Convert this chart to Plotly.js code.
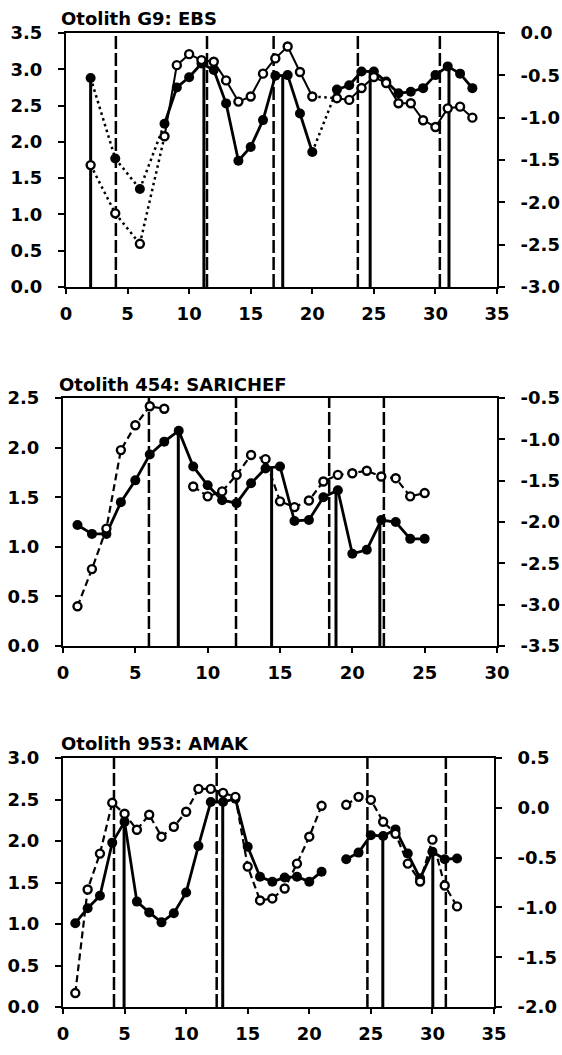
<!DOCTYPE html>
<html>
<head>
<meta charset="utf-8">
<script src="https://cdn.plot.ly/plotly-3.0.1.min.js"></script>
<style>html,body{margin:0;padding:0;background:#fff;}#chart{width:562px;height:1055px;}</style>
</head>
<body>
<div id="chart"></div>
<script>
// ---------- Panel 1: Otolith G9: EBS ----------
const P1_TITLE = "Otolith G9: EBS";
const P1_X      = [2,4,6,8,9,10,11,12,13,14,15,16,17,18,19,20,22,23,24,25,26,27,28,29,30,31,32,33];
const P1_FILLED = [2.88,1.77,1.35,2.25,2.75,2.89,3.08,2.99,2.53,1.74,1.93,2.30,2.91,2.92,2.39,1.86,2.72,2.78,2.97,2.97,2.83,2.67,2.69,2.74,2.92,3.04,2.94,2.74];
const P1_OPEN   = [-1.56,-2.13,-2.49,-1.22,-0.38,-0.25,-0.32,-0.34,-0.56,-0.81,-0.75,-0.48,-0.30,-0.16,-0.46,-0.75,-0.77,-0.79,-0.65,-0.52,-0.59,-0.83,-0.83,-1.03,-1.11,-0.89,-0.87,-1.00];
const P1_SOLID_X   = [2.0,11.2,17.6,24.7,31.1];
const P1_SOLID_TOP = [2.88,3.10,2.92,2.97,3.04];
const P1_DASH_X    = [4.05,11.45,16.86,23.7,30.36];
const P1_XTICKS = [0,5,10,15,20,25,30,35];
const P1_LTICKS = [0,0.5,1,1.5,2,2.5,3,3.5];
const P1_LTEXT  = ["0.0","0.5","1.0","1.5","2.0","2.5","3.0","3.5"];
const P1_RTICKS = [-3,-2.5,-2,-1.5,-1,-0.5,0];
const P1_RTEXT  = ["-3.0","-2.5","-2.0","-1.5","-1.0","-0.5","0.0"];

// ---------- Panel 2: Otolith 454: SARICHEF ----------
const P2_TITLE = "Otolith 454: SARICHEF";
const P2_X      = [1,2,3,4,5,6,7,8,9,10,11,12,13,14,15,16,17,18,19,20,21,22,23,24,25];
const P2_FILLED = [1.22,1.13,1.13,1.45,1.67,1.93,2.06,2.17,1.81,1.62,1.47,1.44,1.64,1.79,1.81,1.26,1.27,1.50,1.57,0.93,0.97,1.27,1.25,1.08,1.08];
const P2_OPEN   = [-3.02,-2.57,-2.08,-1.13,-0.83,-0.60,-0.63,null,-1.57,-1.69,-1.63,-1.43,-1.19,-1.24,-1.75,-1.82,-1.74,-1.51,-1.43,-1.41,-1.38,-1.45,-1.47,-1.69,-1.65];
const P2_SOLID_X   = [7.97,14.42,18.87,21.9];
const P2_SOLID_TOP = [2.16,1.81,1.56,1.29];
const P2_DASH_X    = [5.94,11.96,18.4,22.18];
const P2_XTICKS = [0,5,10,15,20,25,30];
const P2_LTICKS = [0,0.5,1,1.5,2,2.5];
const P2_LTEXT  = ["0.0","0.5","1.0","1.5","2.0","2.5"];
const P2_RTICKS = [-3.5,-3,-2.5,-2,-1.5,-1,-0.5];
const P2_RTEXT  = ["-3.5","-3.0","-2.5","-2.0","-1.5","-1.0","-0.5"];

// ---------- Panel 3: Otolith 953: AMAK ----------
const P3_TITLE = "Otolith 953: AMAK";
const P3_X      = [1,2,3,4,5,6,7,8,9,10,11,12,13,14,15,16,17,18,19,20,21,22,23,24,25,26,27,28,29,30,31,32];
const P3_FILLED = [1.01,1.19,1.34,1.98,2.23,1.27,1.14,1.02,1.13,1.38,1.94,2.47,2.47,2.51,1.93,1.57,1.51,1.56,1.57,1.51,1.63,null,1.78,1.86,2.07,2.06,2.14,1.85,1.55,1.87,1.78,1.79];
const P3_OPEN   = [-1.86,-0.82,-0.46,0.05,-0.06,-0.22,-0.07,-0.29,-0.19,-0.04,0.19,0.19,0.15,0.11,-0.59,-0.93,-0.91,-0.81,-0.56,-0.29,0.02,null,0.03,0.11,0.08,-0.14,-0.26,-0.56,-0.74,-0.32,-0.78,-0.99];
const P3_SOLID_X   = [4.96,12.97,25.97,30.03];
const P3_SOLID_TOP = [2.23,2.49,2.06,1.87];
const P3_DASH_X    = [4.14,12.48,24.72,31.09];
const P3_XTICKS = [0,5,10,15,20,25,30,35];
const P3_LTICKS = [0,0.5,1,1.5,2,2.5,3];
const P3_LTEXT  = ["0.0","0.5","1.0","1.5","2.0","2.5","3.0"];
const P3_RTICKS = [-2,-1.5,-1,-0.5,0,0.5];
const P3_RTEXT  = ["-2.0","-1.5","-1.0","-0.5","0.0","0.5"];

// ---------- helpers ----------
const W = 562, H = 1055;
const px = v => v / W;
const py = v => 1 - v / H;

function verticals(xs, tops, bottom) {
  const x = [], y = [];
  xs.forEach((v, i) => { x.push(v, v, null); y.push(bottom, Array.isArray(tops) ? tops[i] : tops, null); });
  return {x, y};
}
// split consecutive (solid) pairs and gap-bridging (dotted) pairs
function split(xs, ys, step) {
  const s = {x: [], y: []}, b = {x: [], y: []};
  for (let i = 0; i < xs.length - 1; i++) {
    if (ys[i] == null || ys[i + 1] == null) continue;
    const t = (xs[i + 1] - xs[i] > step) ? b : s;
    t.x.push(xs[i], xs[i + 1], null); t.y.push(ys[i], ys[i + 1], null);
  }
  return {s, b};
}

const traces = [];
function panel(cfg) {
  const {xa, ya, yb, X, F, O, SX, ST, DX, ymax, openDash, bridge} = cfg;
  const dv = verticals(DX, ymax, 0);
  traces.push({x: dv.x, y: dv.y, xaxis: xa, yaxis: ya, mode: 'lines', hoverinfo: 'skip',
    line: {color: '#000', width: 2.5, dash: '13px,4px'}});
  const sv = verticals(SX, ST, 0);
  traces.push({x: sv.x, y: sv.y, xaxis: xa, yaxis: ya, mode: 'lines', hoverinfo: 'skip',
    line: {color: '#000', width: 3}});
  if (bridge) {
    const f = split(X, F, 1.5), o = split(X, O, 1.5);
    traces.push({x: f.s.x, y: f.s.y, xaxis: xa, yaxis: ya, mode: 'lines', line: {color: '#000', width: 2.8}});
    traces.push({x: f.b.x, y: f.b.y, xaxis: xa, yaxis: ya, mode: 'lines', line: {color: '#000', width: 2.5, dash: '2.5px,3.5px'}});
    traces.push({x: o.s.x, y: o.s.y, xaxis: xa, yaxis: yb, mode: 'lines', line: {color: '#000', width: 2}});
    traces.push({x: o.b.x, y: o.b.y, xaxis: xa, yaxis: yb, mode: 'lines', line: {color: '#000', width: 2.5, dash: '2.5px,3.5px'}});
  } else {
    traces.push({x: X, y: F, xaxis: xa, yaxis: ya, mode: 'lines', connectgaps: false, line: {color: '#000', width: 2.8}});
    traces.push({x: X, y: O, xaxis: xa, yaxis: yb, mode: 'lines', connectgaps: false, line: {color: '#000', width: 2.2, dash: openDash}});
  }
  traces.push({x: X, y: F, xaxis: xa, yaxis: ya, mode: 'markers', marker: {color: '#000', size: 10}});
  traces.push({x: X, y: O, xaxis: xa, yaxis: yb, mode: 'markers',
    marker: {color: '#fff', size: 8, line: {color: '#000', width: 2.4}}});
}

panel({xa: 'x', ya: 'y', yb: 'y2', X: P1_X, F: P1_FILLED, O: P1_OPEN, SX: P1_SOLID_X, ST: P1_SOLID_TOP, DX: P1_DASH_X, ymax: 3.5, bridge: true});
panel({xa: 'x2', ya: 'y3', yb: 'y4', X: P2_X, F: P2_FILLED, O: P2_OPEN, SX: P2_SOLID_X, ST: P2_SOLID_TOP, DX: P2_DASH_X, ymax: 2.5, openDash: '7px,4px'});
panel({xa: 'x3', ya: 'y5', yb: 'y6', X: P3_X, F: P3_FILLED, O: P3_OPEN, SX: P3_SOLID_X, ST: P3_SOLID_TOP, DX: P3_DASH_X, ymax: 3.0, openDash: '7px,4px'});

const tickFont = {family: 'DejaVu Sans', size: 18, color: '#000', weight: 'bold'};
function xax(domain, anchor, range, ticks) {
  return {domain, anchor, range, tickmode: 'array', tickvals: ticks, ticktext: ticks.map(String),
    ticks: 'outside', ticklen: 5, tickwidth: 2, tickcolor: '#000', showline: true, mirror: true,
    linewidth: 2, linecolor: '#000', showgrid: false, zeroline: false, tickfont: tickFont,
    ticklabelstandoff: 4, fixedrange: true};
}
function yax(domain, anchor, range, vals, text, side, overlay) {
  const a = {domain, anchor, range, side, tickmode: 'array', tickvals: vals, ticktext: text,
    ticks: 'outside', ticklen: 6, tickwidth: 2, tickcolor: '#000', showline: true, linewidth: 2,
    linecolor: '#000', showgrid: false, zeroline: false, tickfont: tickFont, ticklabelstandoff: 12,
    fixedrange: true};
  if (overlay) { a.overlaying = overlay; delete a.domain; }
  return a;
}

const D1 = [py(287), py(33)], D2 = [py(646), py(398)], D3 = [py(1007), py(758)];
const titleFont = {family: 'DejaVu Sans', size: 18, color: '#000', weight: 'bold'};
const layout = {
  width: W, height: H, margin: {l: 0, r: 0, t: 0, b: 0},
  paper_bgcolor: '#fff', plot_bgcolor: '#fff', showlegend: false,
  xaxis:  xax([px(66), px(497)], 'y', [0, 35], P1_XTICKS),
  yaxis:  yax(D1, 'x', [0, 3.5], P1_LTICKS, P1_LTEXT, 'left'),
  yaxis2: yax(D1, 'x', [-3, 0], P1_RTICKS, P1_RTEXT, 'right', 'y'),
  xaxis2: xax([px(63), px(497)], 'y3', [0, 30], P2_XTICKS),
  yaxis3: yax(D2, 'x2', [0, 2.5], P2_LTICKS, P2_LTEXT, 'left'),
  yaxis4: yax(D2, 'x2', [-3.5, -0.5], P2_RTICKS, P2_RTEXT, 'right', 'y3'),
  xaxis3: xax([px(63), px(494)], 'y5', [0, 35], P3_XTICKS),
  yaxis5: yax(D3, 'x3', [0, 3.0], P3_LTICKS, P3_LTEXT, 'left'),
  yaxis6: yax(D3, 'x3', [-2, 0.5], P3_RTICKS, P3_RTEXT, 'right', 'y5'),
  annotations: [
    {text: P1_TITLE, xref: 'paper', yref: 'paper', x: px(59), y: py(19), xanchor: 'left', yanchor: 'middle', showarrow: false, font: titleFont},
    {text: P2_TITLE, xref: 'paper', yref: 'paper', x: px(57), y: py(384), xanchor: 'left', yanchor: 'middle', showarrow: false, font: titleFont},
    {text: P3_TITLE, xref: 'paper', yref: 'paper', x: px(59), y: py(743), xanchor: 'left', yanchor: 'middle', showarrow: false, font: titleFont}
  ]
};

Plotly.newPlot('chart', traces, layout, {staticPlot: true, displayModeBar: false});
</script>
</body>
</html>
